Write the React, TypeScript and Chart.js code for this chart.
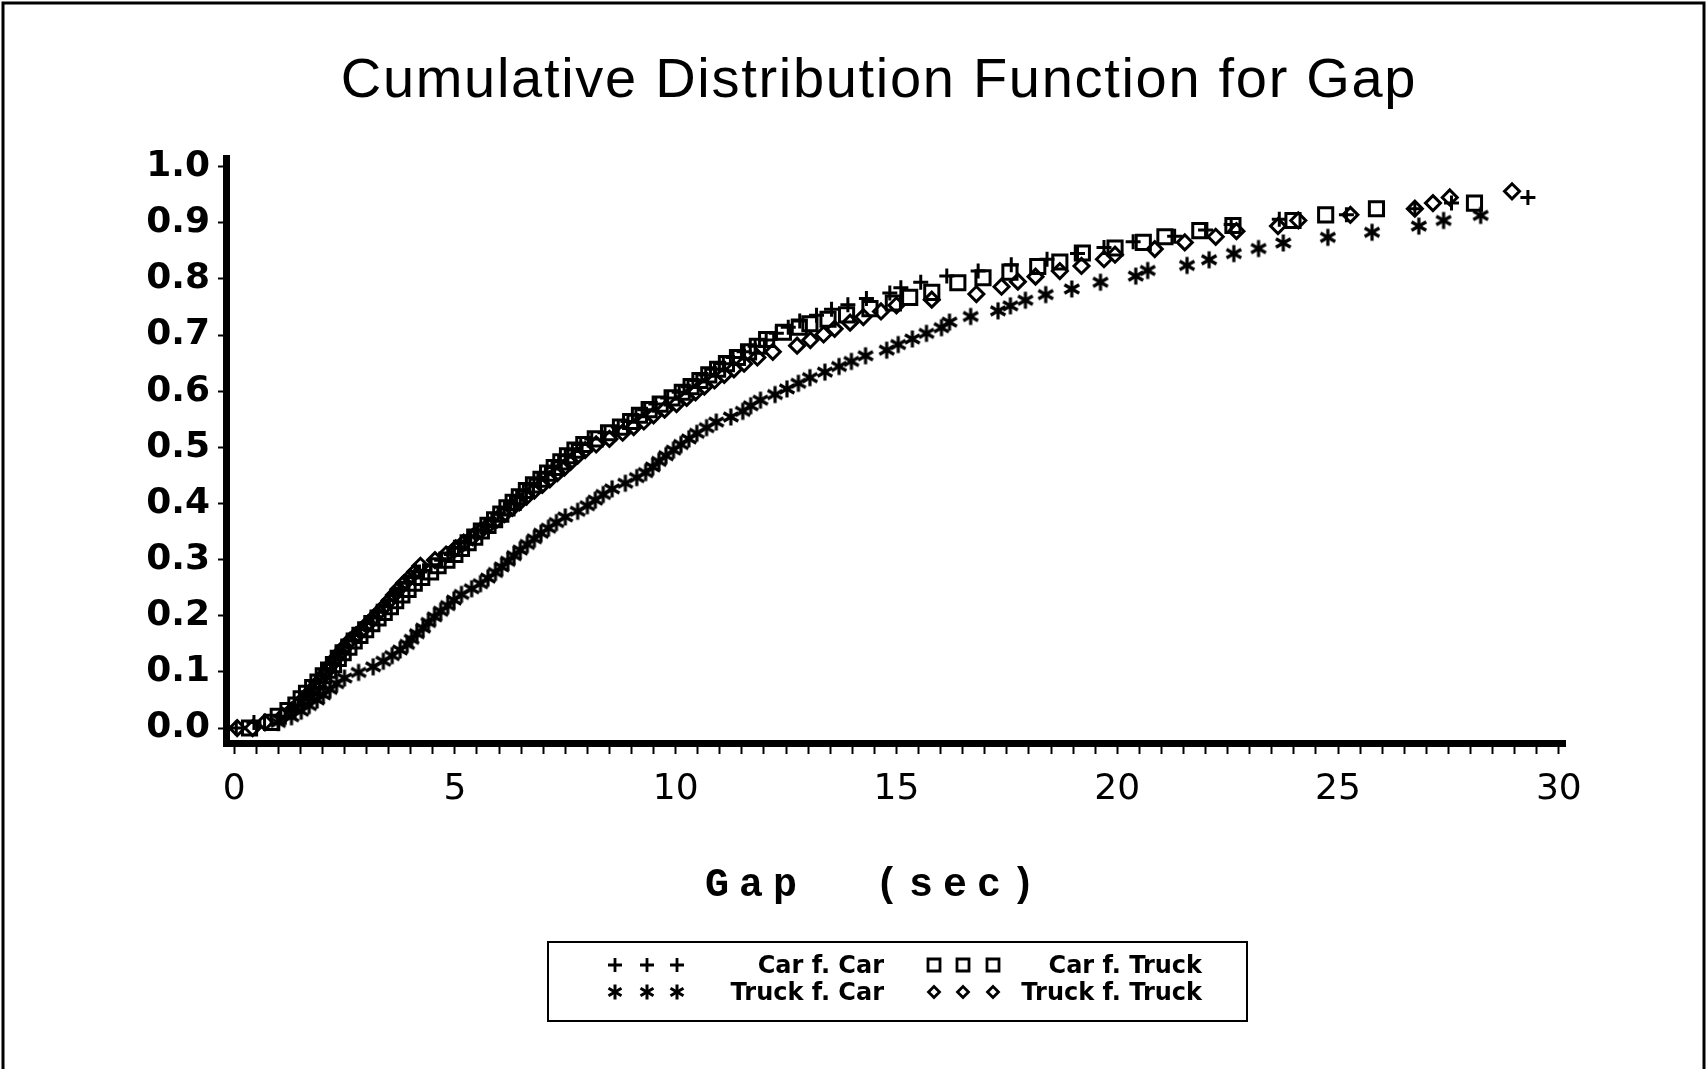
import { useEffect, useRef } from 'react';
import { Chart, registerables } from 'chart.js';

Chart.register(...registerables);

const TITLE = 'Cumulative Distribution Function for Gap';
const X_TITLE = 'Gap  (sec)';
const SERIES_NAMES = ['Car f. Car', 'Truck f. Car', 'Car f. Truck', 'Truck f. Truck'];
const X_MAJOR_TICKS = [0, 5, 10, 15, 20, 25, 30];
const Y_TICKS = [0.0, 0.1, 0.2, 0.3, 0.4, 0.5, 0.6, 0.7, 0.8, 0.9, 1.0];

// Car f. Car  (+)
const carCarX = [0.05, 0.45, 1.05, 1.30, 1.45, 1.55, 1.65, 1.75, 1.85, 1.97, 2.08, 2.18, 2.27, 2.36, 2.45, 2.58, 2.72, 2.86, 3.00, 3.14, 3.27, 3.40, 3.52, 3.65, 3.78, 3.92, 4.05, 4.20, 4.45, 4.70, 4.92, 5.08, 5.22, 5.36, 5.52, 5.68, 5.84, 5.98, 6.12, 6.26, 6.40, 6.55, 6.70, 6.88, 7.05, 7.20, 7.35, 7.50, 7.66, 7.85, 8.10, 8.40, 8.70, 8.92, 9.10, 9.30, 9.55, 9.82, 10.08, 10.28, 10.48, 10.68, 10.88, 11.08, 11.30, 11.55, 11.80, 12.05, 12.28, 12.55, 12.81, 13.19, 13.53, 13.90, 14.32, 14.85, 15.10, 15.55, 16.14, 16.85, 17.60, 18.41, 19.10, 19.70, 20.36, 21.30, 22.00, 22.58, 23.67, 25.19, 26.74, 27.57, 29.30];
const carCarY = [0.000, 0.010, 0.021, 0.031, 0.041, 0.052, 0.062, 0.072, 0.082, 0.093, 0.103, 0.113, 0.124, 0.134, 0.144, 0.155, 0.165, 0.175, 0.186, 0.196, 0.206, 0.216, 0.227, 0.237, 0.247, 0.258, 0.268, 0.278, 0.289, 0.299, 0.309, 0.320, 0.330, 0.340, 0.351, 0.361, 0.371, 0.381, 0.392, 0.402, 0.412, 0.423, 0.433, 0.443, 0.454, 0.464, 0.474, 0.485, 0.495, 0.505, 0.515, 0.526, 0.536, 0.546, 0.557, 0.567, 0.577, 0.588, 0.598, 0.608, 0.619, 0.629, 0.639, 0.649, 0.660, 0.670, 0.680, 0.691, 0.703, 0.714, 0.725, 0.735, 0.746, 0.754, 0.765, 0.775, 0.784, 0.794, 0.805, 0.814, 0.825, 0.835, 0.845, 0.856, 0.866, 0.876, 0.887, 0.897, 0.906, 0.914, 0.925, 0.935, 0.945];

// Truck f. Car  (*)
const truckCarX = [1.00, 1.30, 1.52, 1.70, 1.88, 2.02, 2.17, 2.32, 2.50, 2.82, 3.15, 3.38, 3.58, 3.76, 3.92, 4.02, 4.14, 4.28, 4.40, 4.54, 4.68, 4.84, 4.98, 5.15, 5.38, 5.58, 5.75, 5.92, 6.06, 6.20, 6.34, 6.48, 6.64, 6.80, 6.95, 7.12, 7.30, 7.50, 7.78, 8.00, 8.18, 8.36, 8.56, 8.86, 9.12, 9.32, 9.48, 9.62, 9.78, 9.95, 10.12, 10.30, 10.48, 10.70, 10.92, 11.25, 11.52, 11.70, 11.92, 12.25, 12.52, 12.78, 13.04, 13.38, 13.70, 13.98, 14.30, 14.78, 15.04, 15.36, 15.68, 16.02, 16.20, 16.68, 17.30, 17.58, 17.92, 18.38, 18.97, 19.62, 20.42, 20.69, 21.58, 22.08, 22.64, 23.20, 23.76, 24.77, 25.77, 26.83, 27.39, 28.23];
const truckCarY = [0.010, 0.020, 0.030, 0.040, 0.050, 0.059, 0.069, 0.079, 0.089, 0.099, 0.109, 0.119, 0.129, 0.139, 0.149, 0.158, 0.168, 0.178, 0.188, 0.198, 0.208, 0.218, 0.228, 0.238, 0.248, 0.257, 0.267, 0.277, 0.287, 0.297, 0.307, 0.317, 0.327, 0.337, 0.347, 0.356, 0.366, 0.376, 0.386, 0.396, 0.406, 0.416, 0.426, 0.436, 0.446, 0.455, 0.465, 0.475, 0.485, 0.495, 0.505, 0.515, 0.525, 0.535, 0.545, 0.554, 0.564, 0.574, 0.584, 0.594, 0.604, 0.614, 0.624, 0.634, 0.644, 0.653, 0.663, 0.673, 0.683, 0.693, 0.703, 0.713, 0.723, 0.733, 0.743, 0.752, 0.762, 0.772, 0.782, 0.794, 0.805, 0.815, 0.824, 0.834, 0.845, 0.854, 0.864, 0.874, 0.883, 0.894, 0.904, 0.913];

// Car f. Truck  (square)
const carTruckX = [0.35, 0.85, 1.00, 1.22, 1.40, 1.52, 1.64, 1.78, 1.90, 2.02, 2.14, 2.25, 2.36, 2.47, 2.60, 2.72, 2.85, 2.98, 3.12, 3.26, 3.40, 3.54, 3.66, 3.80, 3.94, 4.08, 4.25, 4.45, 4.62, 4.82, 5.00, 5.15, 5.30, 5.45, 5.60, 5.75, 5.90, 6.04, 6.18, 6.32, 6.46, 6.62, 6.78, 6.95, 7.10, 7.25, 7.40, 7.55, 7.72, 7.92, 8.18, 8.48, 8.75, 8.98, 9.18, 9.40, 9.65, 9.92, 10.15, 10.35, 10.55, 10.75, 10.95, 11.15, 11.40, 11.65, 11.85, 12.06, 12.44, 12.80, 13.04, 13.45, 13.87, 14.40, 14.93, 15.30, 15.80, 16.39, 16.96, 17.57, 18.20, 18.70, 19.21, 19.95, 20.59, 21.08, 21.87, 22.62, 23.98, 24.72, 25.87, 28.09];
const carTruckY = [0.000, 0.010, 0.021, 0.031, 0.041, 0.052, 0.062, 0.072, 0.082, 0.093, 0.103, 0.113, 0.124, 0.134, 0.144, 0.155, 0.165, 0.175, 0.186, 0.196, 0.206, 0.216, 0.227, 0.237, 0.247, 0.258, 0.268, 0.278, 0.289, 0.299, 0.309, 0.320, 0.330, 0.340, 0.351, 0.361, 0.371, 0.381, 0.392, 0.402, 0.412, 0.423, 0.433, 0.443, 0.454, 0.464, 0.474, 0.485, 0.495, 0.505, 0.515, 0.526, 0.536, 0.546, 0.557, 0.567, 0.577, 0.588, 0.598, 0.608, 0.619, 0.629, 0.639, 0.649, 0.660, 0.670, 0.680, 0.692, 0.705, 0.714, 0.720, 0.728, 0.736, 0.747, 0.757, 0.767, 0.776, 0.793, 0.802, 0.812, 0.822, 0.830, 0.846, 0.855, 0.865, 0.875, 0.886, 0.895, 0.904, 0.914, 0.925, 0.935];

// Truck f. Truck  (diamond)
const truckTruckX = [0.07, 0.42, 0.70, 1.10, 1.30, 1.45, 1.58, 1.70, 1.82, 1.92, 2.02, 2.12, 2.20, 2.30, 2.40, 2.50, 2.62, 2.76, 2.90, 3.03, 3.16, 3.28, 3.40, 3.52, 3.62, 3.72, 3.85, 3.98, 4.10, 4.22, 4.55, 4.80, 5.02, 5.20, 5.40, 5.58, 5.76, 5.95, 6.12, 6.30, 6.46, 6.62, 6.80, 6.98, 7.15, 7.32, 7.48, 7.62, 7.78, 7.95, 8.20, 8.50, 8.80, 9.05, 9.28, 9.50, 9.75, 10.02, 10.25, 10.45, 10.65, 10.88, 11.10, 11.32, 11.55, 11.85, 12.20, 12.75, 13.05, 13.35, 13.60, 13.95, 14.25, 14.65, 15.00, 15.80, 16.81, 17.38, 17.75, 18.15, 18.70, 19.19, 19.70, 19.95, 20.85, 21.53, 22.23, 22.70, 23.64, 24.10, 25.28, 26.74, 27.15, 27.53, 28.94];
const truckTruckY = [0.000, 0.000, 0.010, 0.021, 0.031, 0.041, 0.052, 0.062, 0.072, 0.082, 0.093, 0.103, 0.113, 0.124, 0.134, 0.144, 0.155, 0.165, 0.175, 0.186, 0.196, 0.206, 0.216, 0.227, 0.237, 0.247, 0.258, 0.268, 0.278, 0.289, 0.299, 0.309, 0.320, 0.330, 0.340, 0.351, 0.361, 0.371, 0.381, 0.392, 0.402, 0.412, 0.423, 0.433, 0.443, 0.454, 0.464, 0.474, 0.485, 0.495, 0.505, 0.515, 0.526, 0.536, 0.546, 0.557, 0.567, 0.577, 0.588, 0.598, 0.608, 0.619, 0.629, 0.639, 0.649, 0.660, 0.670, 0.681, 0.691, 0.701, 0.711, 0.722, 0.732, 0.742, 0.753, 0.763, 0.773, 0.786, 0.795, 0.804, 0.814, 0.823, 0.835, 0.843, 0.853, 0.865, 0.875, 0.885, 0.894, 0.904, 0.914, 0.925, 0.935, 0.945, 0.956];

const toPoints = (xs: number[], ys: number[]) => xs.map((x, i) => ({ x, y: ys[i] }));

function makeAsterisk(r: number, lw: number): HTMLCanvasElement {
  const size = 2 * Math.ceil(r + lw);
  const c = document.createElement('canvas');
  c.width = size;
  c.height = size;
  const ctx = c.getContext('2d')!;
  ctx.strokeStyle = '#000';
  ctx.lineWidth = lw;
  const cx = size / 2;
  const cy = size / 2;
  for (const a of [90, 30, 150]) {
    const rad = (a * Math.PI) / 180;
    ctx.beginPath();
    ctx.moveTo(cx - r * Math.cos(rad), cy - r * Math.sin(rad));
    ctx.lineTo(cx + r * Math.cos(rad), cy + r * Math.sin(rad));
    ctx.stroke();
  }
  return c;
}

function drawLegendMarker(ctx: CanvasRenderingContext2D, kind: string, x: number, y: number, star: HTMLCanvasElement) {
  ctx.save();
  ctx.strokeStyle = '#000';
  ctx.lineWidth = 2.8;
  ctx.beginPath();
  if (kind === 'plus') {
    ctx.moveTo(x - 7, y); ctx.lineTo(x + 7, y);
    ctx.moveTo(x, y - 7); ctx.lineTo(x, y + 7);
    ctx.stroke();
  } else if (kind === 'square') {
    ctx.rect(x - 6, y - 6, 12, 12);
    ctx.stroke();
  } else if (kind === 'diamond') {
    ctx.moveTo(x - 5.5, y); ctx.lineTo(x, y - 5.5); ctx.lineTo(x + 5.5, y); ctx.lineTo(x, y + 5.5); ctx.closePath();
    ctx.stroke();
  } else {
    ctx.drawImage(star, x - star.width / 2, y - star.height / 2);
  }
  ctx.restore();
}

export default function App() {
  const ref = useRef<HTMLCanvasElement | null>(null);

  useEffect(() => {
    if (!ref.current) return;
    const star = makeAsterisk(8.5, 3.2);
    const legendStar = makeAsterisk(7.5, 3);

    const decor = {
      id: 'decor',
      beforeDraw(chart: any) {
        const ctx = chart.ctx as CanvasRenderingContext2D;
        ctx.save();
        ctx.fillStyle = '#fff';
        ctx.fillRect(0, 0, chart.width, chart.height);
        ctx.restore();
      },
      afterDraw(chart: any) {
        const ctx = chart.ctx as CanvasRenderingContext2D;
        ctx.save();
        // frame
        ctx.strokeStyle = '#000';
        ctx.lineWidth = 3;
        ctx.beginPath();
        ctx.moveTo(3, 1069);
        ctx.lineTo(3, 3);
        ctx.lineTo(1704, 3);
        ctx.lineTo(1704, 1069);
        ctx.stroke();
        // title
        ctx.fillStyle = '#000';
        ctx.font = '56px "Liberation Sans"';
        (ctx as any).letterSpacing = '1.7px';
        ctx.textAlign = 'center';
        ctx.textBaseline = 'alphabetic';
        ctx.fillText(TITLE, 879, 97);
        // x axis title
        ctx.font = 'bold 40px "Liberation Mono"';
        (ctx as any).letterSpacing = '10px';
        ctx.textAlign = 'left';
        ctx.fillText(X_TITLE, 705, 896);
        (ctx as any).letterSpacing = '0px';
        // legend
        ctx.lineWidth = 2;
        ctx.strokeRect(548, 942, 699, 79);
        const rows = [973, 1000];
        const markerY = [965, 992];
        const kinds = [['plus', 'square'], ['star', 'diamond']];
        const names = [[SERIES_NAMES[0], SERIES_NAMES[2]], [SERIES_NAMES[1], SERIES_NAMES[3]]];
        const markerX = [[615, 647, 677], [934, 963, 993]];
        const labelRight = [884, 1202];
        ctx.font = 'bold 24px "DejaVu Sans"';
        ctx.textAlign = 'right';
        for (let r = 0; r < 2; r++) {
          for (let c = 0; c < 2; c++) {
            for (const mx of markerX[c]) drawLegendMarker(ctx, kinds[r][c], mx, markerY[r], legendStar);
            ctx.fillText(names[r][c], labelRight[c], rows[r]);
          }
        }
        ctx.restore();
      },
    };

    const xTickValues: number[] = [];
    for (let i = 0; i <= 60; i++) xTickValues.push(i * 0.5);

    const chart = new Chart(ref.current, {
      type: 'scatter',
      data: {
        datasets: [
          { label: SERIES_NAMES[0], data: toPoints(carCarX, carCarY), pointStyle: 'cross', pointRadius: 7.5, borderColor: '#000', backgroundColor: 'transparent', borderWidth: 3 },
          { label: SERIES_NAMES[1], data: toPoints(truckCarX, truckCarY), pointStyle: star as any, pointRadius: 8, borderColor: '#000', backgroundColor: 'transparent', borderWidth: 3 },
          { label: SERIES_NAMES[2], data: toPoints(carTruckX, carTruckY), pointStyle: 'rect', pointRadius: 10, borderColor: '#000', backgroundColor: 'transparent', borderWidth: 3 },
          { label: SERIES_NAMES[3], data: toPoints(truckTruckX, truckTruckY), pointStyle: 'rectRot', pointRadius: 7.5, borderColor: '#000', backgroundColor: 'transparent', borderWidth: 3 },
        ],
      },
      options: {
        responsive: false,
        animation: false,
        devicePixelRatio: 1,
        layout: { padding: { left: 0, right: 142, top: 158, bottom: 0 } },
        plugins: { legend: { display: false }, title: { display: false }, tooltip: { enabled: false } },
        events: [],
        scales: {
          x: {
            type: 'linear',
            min: -0.183,
            max: 30.14,
            afterBuildTicks: (scale: any) => {
              scale.ticks = xTickValues.map((v) => ({ value: v }));
            },
            afterFit: (scale: any) => {
              scale.height = 326;
            },
            ticks: {
              autoSkip: false,
              maxRotation: 0,
              padding: 14,
              color: '#000',
              font: { family: '"DejaVu Sans"', size: 36 },
              callback: (v: any) => (X_MAJOR_TICKS.includes(Number(v)) ? String(v) : ''),
            },
            grid: { display: true, drawOnChartArea: false, drawTicks: true, tickLength: 11, tickWidth: 2, tickColor: '#000' },
            border: { display: true, width: 7, color: '#000' },
          },
          y: {
            type: 'linear',
            min: -0.0267,
            max: 1.0153,
            afterBuildTicks: (scale: any) => {
              scale.ticks = Y_TICKS.map((v) => ({ value: v }));
            },
            afterFit: (scale: any) => {
              scale.width = 226;
            },
            ticks: {
              autoSkip: false,
              padding: 8,
              color: '#000',
              font: { family: '"DejaVu Sans"', size: 36, weight: 'bold' },
              callback: (v: any) => Number(v).toFixed(1),
            },
            grid: { display: true, drawOnChartArea: false, drawTicks: true, tickLength: 8, tickWidth: 2, tickColor: '#000' },
            border: { display: true, width: 7, color: '#000' },
          },
        },
      },
      plugins: [decor as any],
    });

    return () => chart.destroy();
  }, []);

  return (
    <div style={{ position: 'absolute', left: 0, top: 0, width: 1707, height: 1069 }}>
      <canvas ref={ref} width={1707} height={1069} style={{ display: 'block' }} />
    </div>
  );
}
